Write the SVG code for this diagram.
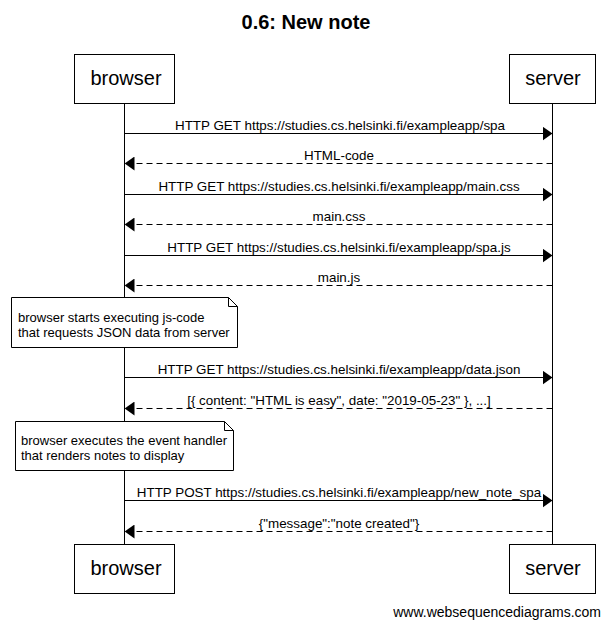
<svg xmlns="http://www.w3.org/2000/svg" width="610" height="627" viewBox="0 0 610 627">
<defs>
<marker id="ah" markerWidth="10" markerHeight="14" refX="10" refY="7" orient="auto" markerUnits="userSpaceOnUse">
<path d="M0,0 L10,7 L0,14 Z" fill="#000"/>
</marker>
</defs>
<style>
text{font-family:"Liberation Sans",Arial,sans-serif;fill:#000}
.t{font-size:20px;font-weight:bold;text-anchor:middle}
.p{font-size:20px;text-anchor:middle}
.m{font-size:13.4px;text-anchor:middle}
.n{font-size:13px}
.w{font-size:14px;text-anchor:end}
.box{fill:#fff;stroke:#000;stroke-width:1}
.life{stroke:#000;stroke-width:1}
.req{stroke:#000;stroke-width:1;fill:none;marker-end:url(#ah)}
.res{stroke:#000;stroke-width:1;fill:none;stroke-dasharray:6,4;marker-end:url(#ah)}
</style>
<rect width="610" height="627" fill="#fff"/>
<text class="t" x="306" y="29">0.6: New note</text>
<g id="lifelines">
<line class="life" x1="124.5" y1="103" x2="124.5" y2="544"/>
<line class="life" x1="552.5" y1="103" x2="552.5" y2="544"/>
</g>
<g id="browser-top"><rect class="box" x="74.5" y="54.5" width="100" height="49"/><text class="p" x="126" y="85">browser</text></g>
<g id="server-top"><rect class="box" x="509.5" y="54.5" width="86" height="49"/><text class="p" x="553" y="85">server</text></g>
<g id="browser-bottom"><rect class="box" x="74.5" y="544.5" width="100" height="49"/><text class="p" x="126" y="575">browser</text></g>
<g id="server-bottom"><rect class="box" x="509.5" y="544.5" width="86" height="49"/><text class="p" x="553" y="575">server</text></g>
<g id="connectors">
<line class="req" x1="124.5" y1="133.5" x2="552.5" y2="133.5"/>
<text class="m" x="340" y="130">HTTP GET https://studies.cs.helsinki.fi/exampleapp/spa</text>
<line class="res" x1="552.5" y1="163.5" x2="124.5" y2="163.5"/>
<text class="m" x="339" y="160">HTML-code</text>
<line class="req" x1="124.5" y1="194.5" x2="552.5" y2="194.5"/>
<text class="m" x="339" y="191">HTTP GET https://studies.cs.helsinki.fi/exampleapp/main.css</text>
<line class="res" x1="552.5" y1="224.5" x2="124.5" y2="224.5"/>
<text class="m" x="339" y="221">main.css</text>
<line class="req" x1="124.5" y1="255.5" x2="552.5" y2="255.5"/>
<text class="m" x="339" y="252">HTTP GET https://studies.cs.helsinki.fi/exampleapp/spa.js</text>
<line class="res" x1="552.5" y1="285.5" x2="124.5" y2="285.5"/>
<text class="m" x="339" y="282">main.js</text>
<line class="req" x1="124.5" y1="377.5" x2="552.5" y2="377.5"/>
<text class="m" x="339" y="374">HTTP GET https://studies.cs.helsinki.fi/exampleapp/data.json</text>
<line class="res" x1="552.5" y1="408.5" x2="124.5" y2="408.5"/>
<text class="m" x="339" y="405">[{ content: "HTML is easy", date: "2019-05-23" }, ...]</text>
<line class="req" x1="124.5" y1="500.5" x2="552.5" y2="500.5"/>
<text class="m" x="339" y="497">HTTP POST https://studies.cs.helsinki.fi/exampleapp/new_note_spa</text>
<line class="res" x1="552.5" y1="531.5" x2="124.5" y2="531.5"/>
<text class="m" x="339" y="528">{"message":"note created"}</text>
</g>
<g id="note1">
<path class="box" d="M11.5,297.5 H228.5 L237.5,306.5 V347.5 H11.5 Z"/>
<path d="M228.5,297.5 V306.5 H237.5" fill="none" stroke="#000"/>
<text class="n" x="18" y="322">browser starts executing js-code</text>
<text class="n" x="18" y="337">that requests JSON data from server</text>
</g>
<g id="note2">
<path class="box" d="M15.5,421.5 H224.5 L233.5,430.5 V470.5 H15.5 Z"/>
<path d="M224.5,421.5 V430.5 H233.5" fill="none" stroke="#000"/>
<text class="n" x="21" y="445">browser executes the event handler</text>
<text class="n" x="21" y="460">that renders notes to display</text>
</g>
<text class="w" x="601" y="617">www.websequencediagrams.com</text>
</svg>
